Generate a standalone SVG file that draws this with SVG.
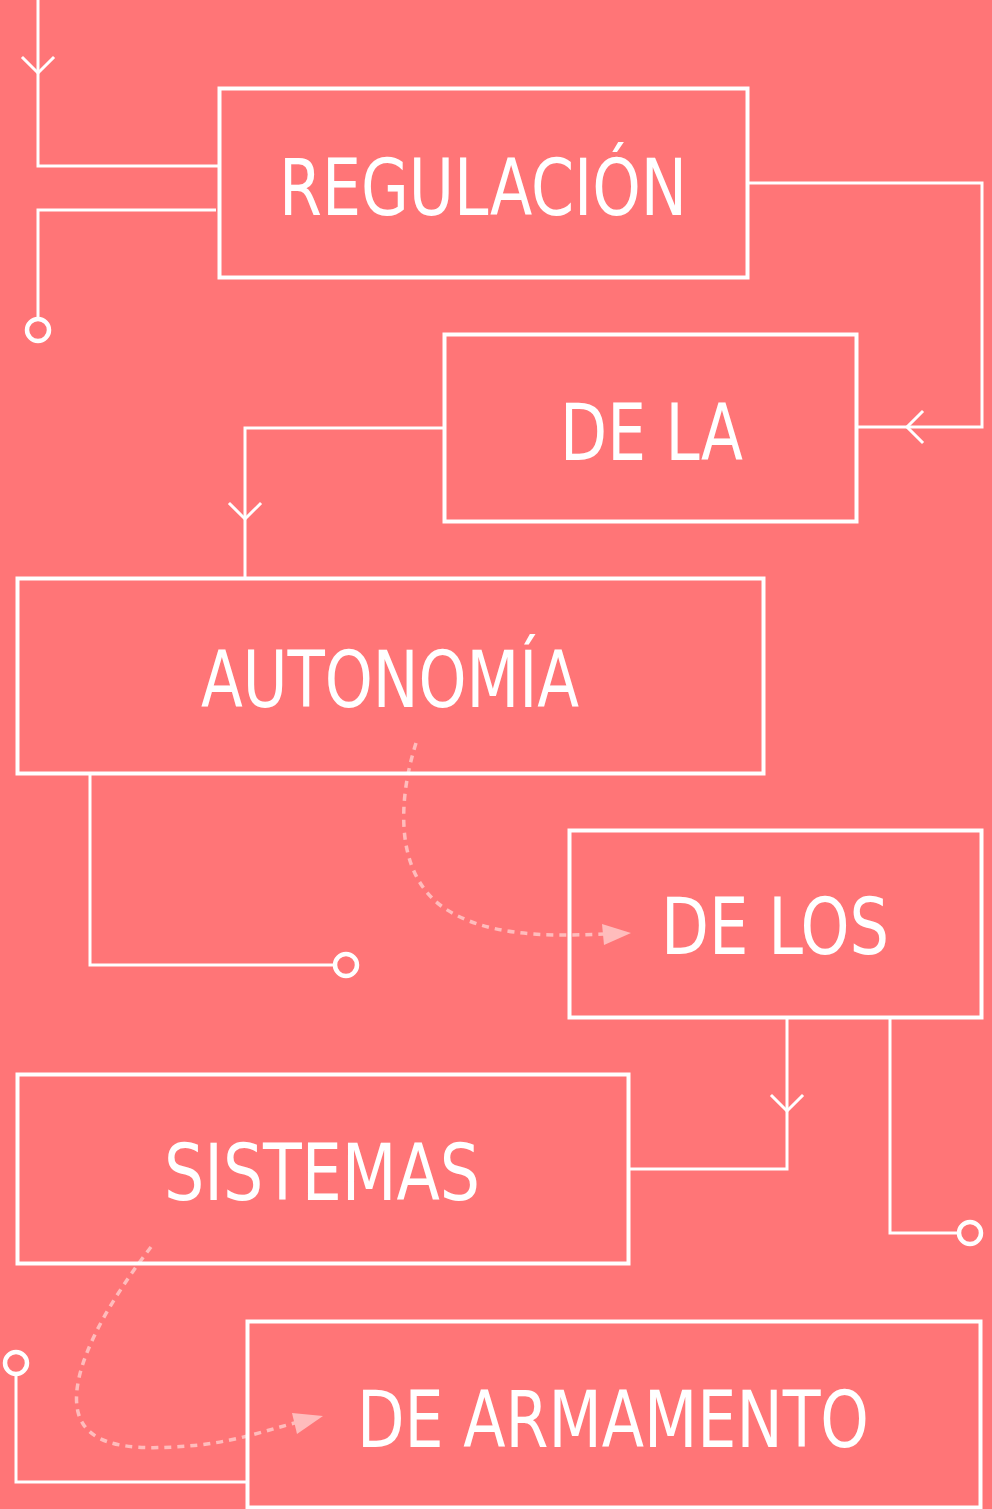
<svg xmlns="http://www.w3.org/2000/svg" width="992" height="1509" viewBox="0 0 992 1509">
<defs>
<style>
.box{fill:none;stroke:#ffffff;stroke-width:4}
.ln{fill:none;stroke:#ffffff;stroke-width:3;stroke-linejoin:miter}
.chev{fill:none;stroke:#ffffff;stroke-width:3;stroke-linecap:square}
.dot{fill:#ff7577;stroke:#ffffff;stroke-width:4.5}
.dash{fill:none;stroke:#ffbcbc;stroke-width:3.5;stroke-dasharray:7 6}
.head{fill:#ffbcbc}
.lbl{fill:#ffffff;font-family:"Liberation Sans Narrow","DejaVu Sans Condensed","Liberation Sans",sans-serif;font-stretch:condensed;font-size:79px}
</style>
</defs>
<rect width="992" height="1509" fill="#ff7577"/>
<g id="connectors">
<polyline class="ln" points="38,0 38,166 219,166"/>
<polyline class="chev" points="23,58 38,73 53,58"/>
<polyline class="ln" points="38,319 38,210 216,210"/>
<circle class="dot" cx="38" cy="330" r="11"/>
<polyline class="ln" points="748,183 982,183 982,427 857,427"/>
<polyline class="chev" points="922,412 907,427 922,442"/>
<polyline class="ln" points="444,428 245,428 245,578"/>
<polyline class="chev" points="230,504 245,519 260,504"/>
<polyline class="ln" points="90,773 90,965 335,965"/>
<circle class="dot" cx="346" cy="965" r="11"/>
<path class="dash" d="M416,743 C398,800 395,870 440,905 C480,935 540,937 604,934"/>
<polygon class="head" points="631,933 602,924 604,945"/>
<polyline class="ln" points="787,1017 787,1169 628,1169"/>
<polyline class="chev" points="772,1096 787,1111 802,1096"/>
<polyline class="ln" points="890,1017 890,1233 959,1233"/>
<circle class="dot" cx="970" cy="1233" r="11"/>
<path class="dash" d="M151,1247 C110,1300 68,1370 78,1412 C88,1452 145,1450 200,1445 C240,1440 268,1430 298,1422"/>
<polygon class="head" points="323,1416 292,1413 297,1434"/>
<polyline class="ln" points="16,1374 16,1482 247,1482"/>
<circle class="dot" cx="16" cy="1363" r="11"/>
</g>
<g id="n1"><rect class="box" x="219.5" y="88.5" width="528" height="189"/><text class="lbl" x="279" y="215" textLength="408" lengthAdjust="spacingAndGlyphs">REGULACIÓN</text></g>
<g id="n2"><rect class="box" x="444.5" y="334.5" width="412" height="187"/><text class="lbl" x="560" y="460" textLength="183" lengthAdjust="spacingAndGlyphs">DE LA</text></g>
<g id="n3"><rect class="box" x="17.5" y="578.5" width="746" height="195"/><text class="lbl" x="201" y="707" textLength="378" lengthAdjust="spacingAndGlyphs">AUTONOMÍA</text></g>
<g id="n4"><rect class="box" x="569.5" y="830.5" width="412" height="187"/><text class="lbl" x="661" y="954" textLength="228" lengthAdjust="spacingAndGlyphs">DE LOS</text></g>
<g id="n5"><rect class="box" x="17.5" y="1074.5" width="611" height="189"/><text class="lbl" x="164" y="1200" textLength="316" lengthAdjust="spacingAndGlyphs">SISTEMAS</text></g>
<g id="n6"><rect class="box" x="247.5" y="1321.5" width="733" height="186"/><text class="lbl" x="357" y="1447" textLength="512" lengthAdjust="spacingAndGlyphs">DE ARMAMENTO</text></g>
</svg>
